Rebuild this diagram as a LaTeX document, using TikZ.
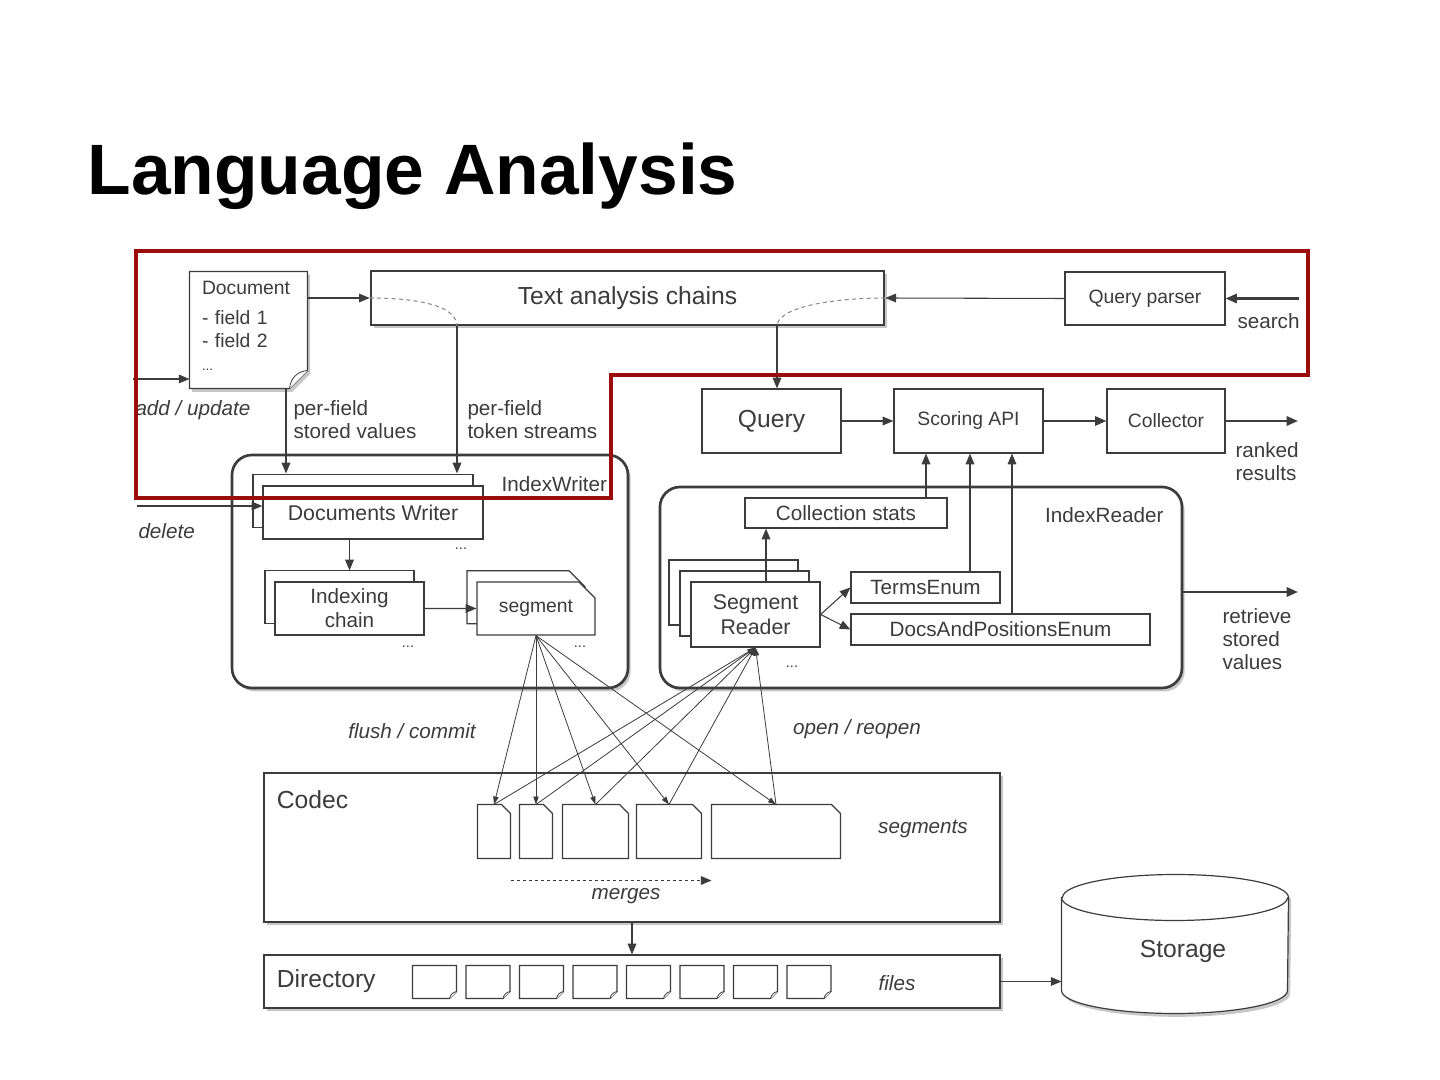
\documentclass[tikz,border=0pt]{standalone}
\usepackage{fontspec}
\setmainfont{Liberation Sans}
\usetikzlibrary{arrows.meta,calc,shapes.misc,shadows,backgrounds}

\definecolor{ink}{HTML}{3C3C3C}
\definecolor{hilite}{HTML}{9B0D0D}

\tikzset{every picture/.style={line width=0.75pt}}
\tikzset{
  box/.style={draw=ink, fill=white, line width=0.9pt, text=ink, inner sep=0pt,
    font=\fontsize{15.5}{18}\selectfont, align=center},
  heavy/.style={box, line width=2pt},
  pageline/.style={draw=ink, fill=white, line width=0.9pt},
  slot/.style={inner sep=0pt, minimum height=39.75pt},
  dropsh/.style={drop shadow={shadow xshift=2pt, shadow yshift=-2.5pt, opacity=0.4, fill=black!55}},
  stack/.style={copy shadow={shadow xshift=-7.5pt, shadow yshift=8.5pt, draw=ink, fill=white}},
  stacktwo/.style={double copy shadow={shadow xshift=-8.25pt, shadow yshift=8.25pt, draw=ink, fill=white}},
  filepage/.style={box, chamfered rectangle, chamfered rectangle corners=north east,
    chamfered rectangle xsep=6pt, chamfered rectangle ysep=6pt},
  lbl/.style={text=ink, inner sep=0pt, align=left, font=\fontsize{15.5}{17.25}\selectfont},
  note/.style={lbl, font=\fontsize{15.5}{17.25}\selectfont\itshape},
  dots/.style={text=ink, inner sep=0pt, font=\fontsize{11}{12}\selectfont},
  arr/.style={draw=ink, line width=0.8pt, -{Triangle[length=8pt,width=6.5pt]}},
  heavyarr/.style={arr, line width=1.6pt, -{Triangle[length=8.5pt,width=7pt]}},
  fanarr/.style={draw=ink, line width=0.6pt, -{Triangle[length=6pt,width=4pt]}},
  guide/.style={draw=ink!60, line width=0.8pt, dash pattern=on 3pt off 2.5pt},
}

% page outlines with a cut corner
\newcommand{\cutne}[2]{\draw[pageline] (#1.north west) -- ($(#1.north east)+(-#2,0)$) -- ($(#1.north east)+(0,#2)$) -- (#1.south east) -- (#1.south west) -- cycle;}
\newcommand{\cutse}[3][]{\draw[pageline,#1] (#2.north west) -- (#2.north east) -- ($(#2.south east)+(0,-#3)$) -- ($(#2.south east)+(-#3,0)$) -- (#2.south west) -- cycle;
  \draw[pageline, line width=0.6pt] ($(#2.south east)+(-#3,0)$) .. controls ($(#2.south east)+(-#3+1,-#3*0.55)$) and ($(#2.south east)+(-#3*0.6,-#3+1)$) .. ($(#2.south east)+(0,-#3)$);}

\begin{document}
\begin{tikzpicture}[x=0.75pt,y=0.75pt,yscale=-1,xscale=1]
	\useasboundingbox (0,0) rectangle (1440,1080);

	% Title
	\node[anchor=base west, inner sep=0pt, font=\bfseries\fontsize{53.5}{60}\selectfont] (title) at (87,195) {Language Analysis};

	% Document
	\node[text=ink, align=left, inner xsep=9pt, inner ysep=0pt, text width=69.75pt, minimum height=87pt,
		font=\fontsize{14.5}{17.5}\selectfont] (doc) at (248.5,330)
		{Document\\[5pt]- field 1\\- field 2\\{\fontsize{10}{12}\selectfont ...}\rule[-6pt]{0pt}{6pt}};
	\begin{scope}[on background layer]
		\cutse[dropsh]{doc}{18}
	\end{scope}

	% Analysis and search
	\node[heavy, dropsh, minimum width=384.75pt, minimum height=40.5pt, font=\fontsize{18.5}{22}\selectfont] (tac) at (627.5,298) {Text analysis chains};
	\node[box, minimum width=120pt, minimum height=39.75pt, font=\fontsize{14.5}{17}\selectfont] (qp) at (1145,298.5) {Query parser};
	\node[box, minimum width=104.25pt, minimum height=48pt, font=\fontsize{18.5}{22}\selectfont] (query) at (771.5,421) {Query};
	\node[box, minimum width=111.75pt, minimum height=48pt, font=\fontsize{14.5}{17}\selectfont] (scoring) at (968.5,421) {Scoring API};
	\node[box, minimum width=88.5pt, minimum height=48pt, font=\fontsize{14.5}{17}\selectfont] (coll) at (1166,421) {Collector};

	% IndexWriter
	\node[heavy, dropsh, rounded corners=15pt, minimum width=297pt, minimum height=174.75pt] (iw) at (430,571.5) {};
	\node[lbl] at ($(iw.north east)+(-75,30)$) {IndexWriter};
	\node[box, stack, minimum width=165pt, minimum height=39.75pt, font=\fontsize{16}{19}\selectfont] (dw) at (373,512.5) {Documents Writer};
	\node[box, stack, minimum width=111.75pt, minimum height=39.75pt] (ic) at (349.5,608.5) {Indexing\\chain};
	\node[filepage, stack, minimum width=88.5pt, minimum height=39.75pt, font=\fontsize{14.5}{17}\selectfont] (segm) at (536,608.5) {segment};
	\node[dots] at (461,549) {...};
	\node[dots] at (408,647) {...};
	\node[dots] at (580,647) {...};

	% IndexReader
	\node[heavy, dropsh, rounded corners=15pt, minimum width=391.5pt, minimum height=150.75pt] (ir) at (921,587.5) {};
	\node[lbl] at ($(ir.north east)+(-79,29)$) {IndexReader};
	\node[box, minimum width=151.5pt, minimum height=22.5pt] (cs) at (846,513) {Collection stats};
	\node[box, stacktwo, minimum width=96.75pt, minimum height=48.75pt, font=\fontsize{16}{18.75}\selectfont] (sr) at (755.5,614.5) {Segment\\Reader};
	\node[box, minimum width=111.75pt, minimum height=23.25pt] (te) at (925.5,587.5) {TermsEnum};
	\node[box, minimum width=224.25pt, minimum height=23.25pt] (dpe) at (1000.5,629.5) {DocsAndPositionsEnum};
	\node[dots] at (792,667) {...};

	% Codec
	\node[box, dropsh, minimum width=552pt, minimum height=111.75pt] (codec) at (632,847.5) {};
	\node[lbl, anchor=base west, font=\fontsize{18.5}{22}\selectfont] at ($(codec.north west)+(13,36)$) {Codec};
	\foreach \i/\cx/\w in {1/494/24pt, 2/536/24pt, 3/595.5/48.75pt, 4/669/48pt, 5/776/96pt} {
		\node[slot, minimum width=\w] (s\i) at (\cx,831.5) {};
		\cutne{s\i}{9}
	}
	\node[note] at (923,829) {segments};
	\coordinate (mgL) at ($(s1.east |- s1.south)+(0,22)$);
	\coordinate (mgR) at ($(s5.west |- s5.south)+(0,22)$);
	\draw[arr, dash pattern=on 2.5pt off 2pt] (mgL) -- (mgR);
	\node[note] at (626,896) {merges};

	% Directory
	\node[box, dropsh, minimum width=552pt, minimum height=39.75pt] (dir) at (632,981.5) {};
	\node[lbl, anchor=west, font=\fontsize{18.5}{22}\selectfont] at ($(dir.west)+(13,0)$) {Directory};
	\foreach \i in {1,...,8} {
		\node[slot, minimum width=32.25pt, minimum height=24pt] (f\i) at ({381+53.5*\i},982) {};
		\cutse{f\i}{7}
	}
	\node[note] at (897,983) {files};

	% Storage
	\node[minimum width=169.5pt, minimum height=103.5pt, inner sep=0pt] (stor) at (1175,944) {};
	\draw[pageline, dropsh] ($(stor.north west)+(0,23)$) -- ($(stor.south west)+(0,-23)$) arc[start angle=180, end angle=0, x radius=113, y radius=23] -- ($(stor.north east)+(0,23)$) arc[start angle=0, end angle=-180, x radius=113, y radius=23] -- cycle;
	\draw[draw=ink, line width=0.9pt] ($(stor.north west)+(0,23)$) arc[start angle=180, end angle=0, x radius=113, y radius=23];
	\node[lbl, font=\fontsize{18.5}{22}\selectfont] at (1183,951) {Storage};

	% Connectors, top
	\coordinate (addin) at (133,379);
	\coordinate (sv) at (286,0 |- doc.south);
	\coordinate (tok) at (457,0 |- tac.south);
	\coordinate (qry) at (777,0 |- tac.south);
	\coordinate (dwtop) at ($(dw.north)+(0,-12)$);
	\coordinate (srch) at (1299,298.5);
	\coordinate (rank) at (1298,421);
	\draw[arr] (addin) -- (addin -| doc.west);
	\draw[arr] (doc.east |- tac.west) -- (tac.west);
	\draw[guide] (tac.west) .. controls ($(tac.west)+(54,0)$) and ($(tok)+(0,-19)$) .. (tok);
	\draw[guide] (tac.east) .. controls ($(tac.east)+(-54,0)$) and ($(qry)+(0,-19)$) .. (qry);
	\draw[arr] (qp.west) -- (tac.east);
	\draw[heavyarr] (srch) -- (qp.east);
	\draw[arr] (qry) -- (qry |- query.north);
	\draw[arr] (query) -- (scoring);
	\draw[heavyarr] (scoring) -- (coll);
	\draw[heavyarr] (coll) -- (rank);
	\draw[arr] (sv) -- (sv |- dwtop);
	\draw[arr] (tok) -- (tok |- dwtop);

	% Connectors, writer and reader
	\coordinate (del) at (137,506);
	\coordinate (ret) at (1298,592);
	\draw[arr] (del) -- (del -| dw.west);
	\draw[arr] (dw.south -| ic.north) -- ($(ic.north)+(0,-11)$);
	\draw[arr] (ic) -- (segm);
	\draw[arr] (766,0 |- sr.north) -- (766,0 |- cs.south);
	\draw[arr] (926,0 |- cs.north) -- (926,0 |- scoring.south);
	\draw[arr] (970,0 |- te.north) -- (970,0 |- scoring.south);
	\draw[arr] (1012,0 |- dpe.north) -- (1012,0 |- scoring.south);
	\draw[arr] (sr.east) -- (te.west);
	\draw[arr] (sr.east) -- (dpe.west);
	\draw[heavyarr] (ir.east |- ret) -- (ret);

	% Connectors, segments
	\foreach \i in {1,...,5} {
		\draw[fanarr] (segm.south) -- (s\i.north);
		\draw[fanarr] (s\i.north) -- (sr.south);
	}
	\draw[arr] (codec.south) -- (dir.north);
	\draw[arr] (dir.east) -- (dir.east -| stor.west);

	% Labels
	\node[note, anchor=west] at (135,410) {add / update};
	\node[lbl, anchor=north west] at (293,400) {per-field\\stored values};
	\node[lbl, anchor=north west] at (467,400) {per-field\\token streams};
	\node[lbl, anchor=west] at (1237,321) {search};
	\node[lbl, anchor=north west] at (1235,442) {ranked\\results};
	\node[note, anchor=west] at (138,531) {delete};
	\node[lbl, anchor=north west] at (1222,608) {retrieve\\stored\\values};
	\node[note] at (412,731) {flush / commit};
	\node[note] at (857,729) {open / reopen};

	% Highlight frame
	\draw[draw=hilite, line width=2.7pt] (136,251) -- (1308,251) -- (1308,375) -- (611,375) -- (611,498) -- (136,498) -- cycle;

\end{tikzpicture}
\end{document}
